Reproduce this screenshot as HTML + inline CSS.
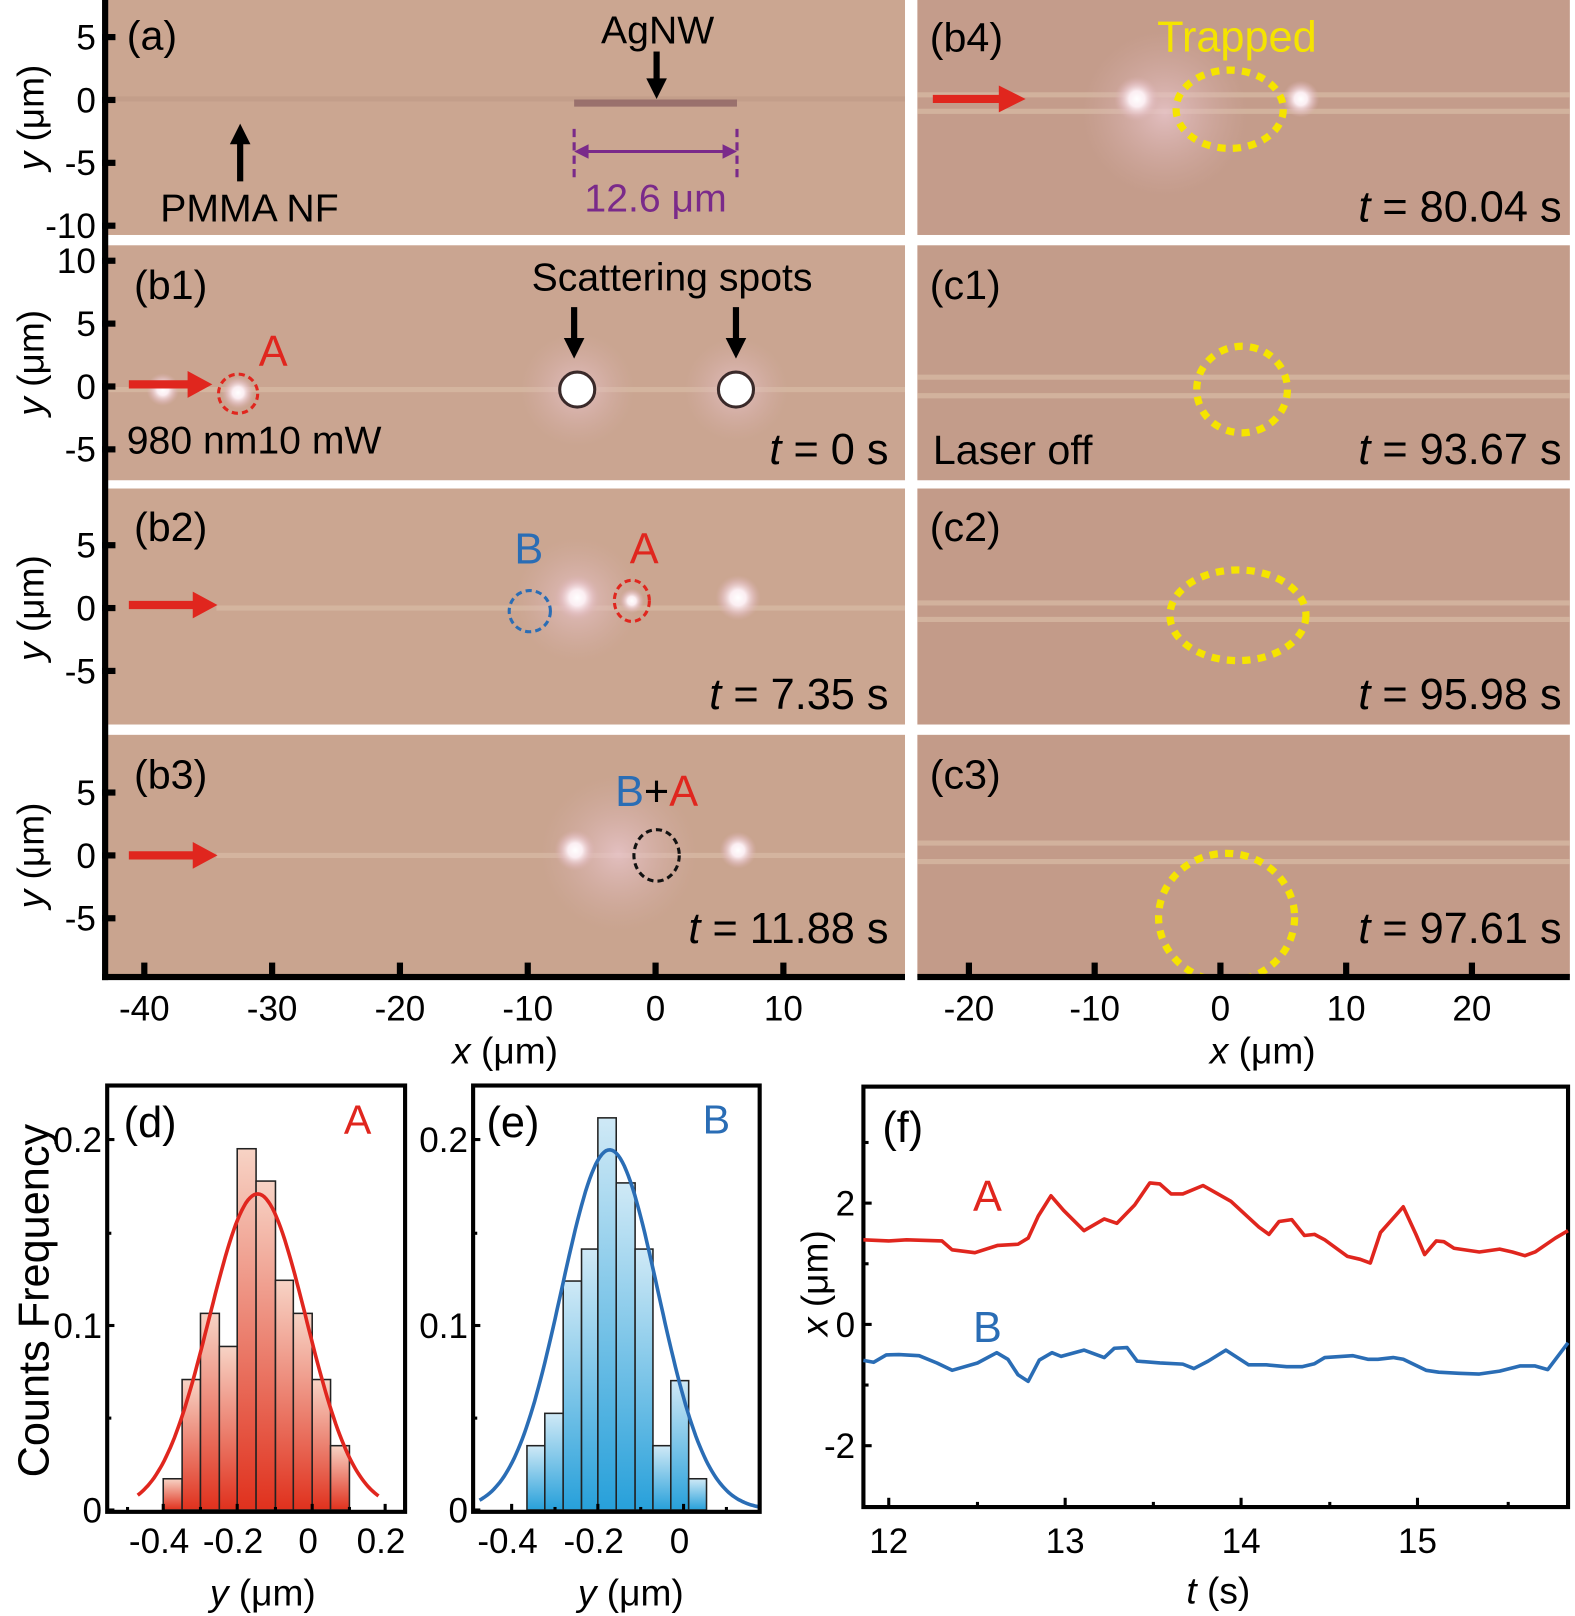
<!DOCTYPE html>
<html><head><meta charset="utf-8">
<style>
html,body{margin:0;padding:0;background:#fff;}
svg{display:block;}
text{font-family:"Liberation Sans",sans-serif;}
.n{font-family:"Liberation Sans Narrow","Liberation Sans",sans-serif;}
</style></head>
<body>
<svg id="s" width="1575" height="1616" viewBox="0 0 1528 1568" preserveAspectRatio="none" xmlns="http://www.w3.org/2000/svg">
<defs>
<radialGradient id="glow"><stop offset="0" stop-color="#fff"/><stop offset="0.35" stop-color="#fbeef2"/><stop offset="0.7" stop-color="#e6c3c8" stop-opacity="0.6"/><stop offset="1" stop-color="#d9b0b0" stop-opacity="0"/></radialGradient>
<radialGradient id="haze"><stop offset="0" stop-color="#e9c6cc" stop-opacity="0.8"/><stop offset="1" stop-color="#d8b0ae" stop-opacity="0"/></radialGradient>
<linearGradient id="gr" x1="0" y1="0" x2="0" y2="1"><stop offset="0" stop-color="#f7d3c5"/><stop offset="1" stop-color="#e0311d"/></linearGradient>
<linearGradient id="gb" x1="0" y1="0" x2="0" y2="1"><stop offset="0" stop-color="#cfe9f6"/><stop offset="1" stop-color="#27a0da"/></linearGradient>
</defs>

<g>
<rect x="100" y="0" width="778" height="228" fill="#cba691"/>
<rect x="100" y="238" width="778" height="228" fill="#caa591"/>
<rect x="100" y="474" width="778" height="229" fill="#cba691"/>
<rect x="100" y="713" width="778" height="235" fill="#c9a48f"/>
<rect x="890" y="0" width="633" height="228" fill="#c49c8b"/>
<rect x="890" y="238" width="633" height="228" fill="#c39c8a"/>
<rect x="890" y="474" width="633" height="229" fill="#c39b89"/>
<rect x="890" y="713" width="633" height="235" fill="#c39b89"/>
</g>
<g stroke="#d9bca6" stroke-width="5" opacity="0.7">
<line x1="105" y1="96" x2="878" y2="96" stroke="#c09b88"/>
<line x1="105" y1="378" x2="878" y2="378"/>
<line x1="210" y1="590" x2="878" y2="590"/>
<line x1="210" y1="830" x2="878" y2="830"/>
<line x1="890" y1="92" x2="1523" y2="92"/><line x1="890" y1="108" x2="1523" y2="108"/>
<line x1="890" y1="366" x2="1523" y2="366"/><line x1="890" y1="384" x2="1523" y2="384"/>
<line x1="890" y1="585" x2="1523" y2="585"/><line x1="890" y1="601" x2="1523" y2="601"/>
<line x1="890" y1="818" x2="1523" y2="818"/><line x1="890" y1="836" x2="1523" y2="836"/>
</g>
<!-- (a) -->
<line x1="557" y1="100" x2="715" y2="100" stroke="#8f6565" stroke-width="7" opacity="0.8"/>
<g stroke="#7a2a8a" stroke-width="3">
<line x1="557" y1="125" x2="557" y2="172" stroke-dasharray="8,5"/>
<line x1="715" y1="125" x2="715" y2="172" stroke-dasharray="8,5"/>
<line x1="568" y1="147" x2="704" y2="147"/>
<path d="M557,147 l14,-7 v14z M715,147 l-14,-7 v14z" fill="#7a2a8a" stroke="none"/>
</g>
<text x="636" y="205" font-size="38" fill="#7a2a8a" text-anchor="middle">12.6 μm</text>
<text x="638" y="42" font-size="38" text-anchor="middle">AgNW</text>
<path d="M637,50 V78" stroke="#000" stroke-width="6"/><path d="M627,76 h20 l-10,20z"/>
<path d="M233,176 V138" stroke="#000" stroke-width="6"/><path d="M223,140 h20 l-10,-20z"/>
<text x="242" y="215" font-size="38" text-anchor="middle">PMMA NF</text>
<text x="123" y="48" font-size="40">(a)</text>

<!-- (b1) -->
<circle cx="560" cy="378" r="55" fill="url(#haze)"/><circle cx="714" cy="378" r="50" fill="url(#haze)"/>
<circle cx="560" cy="378" r="17" fill="#fff" stroke="#3a2a2a" stroke-width="3"/>
<circle cx="714" cy="378" r="17" fill="#fff" stroke="#3a2a2a" stroke-width="3"/>
<circle cx="231" cy="381" r="16" fill="url(#glow)"/>
<circle cx="231" cy="382" r="19" fill="none" stroke="#e0261e" stroke-width="3" stroke-dasharray="6,4"/>
<circle cx="158" cy="378" r="16" fill="url(#glow)"/>
<line x1="125" y1="373" x2="185" y2="373" stroke="#e0261e" stroke-width="8"/><path d="M182,360 l24,13 l-24,13z" fill="#e0261e"/>
<text x="265" y="355" font-size="42" fill="#e0261e" text-anchor="middle">A</text>
<text x="652" y="282" font-size="38" text-anchor="middle">Scattering spots</text>
<path d="M557,298 V330" stroke="#000" stroke-width="6"/><path d="M547,328 h20 l-10,20z"/>
<path d="M714,298 V330" stroke="#000" stroke-width="6"/><path d="M704,328 h20 l-10,20z"/>
<text x="123" y="440" font-size="38">980 nm10 mW</text>
<text x="130" y="290" font-size="40">(b1)</text>
<text x="862" y="450" font-size="42" text-anchor="end"><tspan font-style="italic">t</tspan> = 0 s</text>

<!-- (b2) -->
<circle cx="560" cy="582" r="60" fill="url(#haze)"/>
<circle cx="560" cy="580" r="22" fill="url(#glow)"/><circle cx="716" cy="580" r="22" fill="url(#glow)"/>
<circle cx="613" cy="583" r="12" fill="url(#glow)"/>
<circle cx="514" cy="593" r="20" fill="none" stroke="#2a6db5" stroke-width="3" stroke-dasharray="6,4"/>
<ellipse cx="613" cy="583" rx="17" ry="20" fill="none" stroke="#e0261e" stroke-width="3" stroke-dasharray="6,4"/>
<line x1="125" y1="587" x2="190" y2="587" stroke="#e0261e" stroke-width="8"/><path d="M187,574 l24,13 l-24,13z" fill="#e0261e"/>
<text x="513" y="547" font-size="42" fill="#2a6db5" text-anchor="middle">B</text>
<text x="625" y="547" font-size="42" fill="#e0261e" text-anchor="middle">A</text>
<text x="130" y="525" font-size="40">(b2)</text>
<text x="862" y="688" font-size="42" text-anchor="end"><tspan font-style="italic">t</tspan> = 7.35 s</text>

<!-- (b3) -->
<circle cx="600" cy="828" r="75" fill="url(#haze)"/>
<circle cx="558" cy="825" r="20" fill="url(#glow)"/><circle cx="716" cy="825" r="18" fill="url(#glow)"/>
<ellipse cx="637" cy="830" rx="22" ry="25" fill="none" stroke="#111" stroke-width="3" stroke-dasharray="6,4"/>
<line x1="125" y1="830" x2="190" y2="830" stroke="#e0261e" stroke-width="8"/><path d="M187,817 l24,13 l-24,13z" fill="#e0261e"/>
<text x="637" y="782" font-size="42" text-anchor="middle"><tspan fill="#2a6db5">B</tspan>+<tspan fill="#e0261e">A</tspan></text>
<text x="130" y="765" font-size="40">(b3)</text>
<text x="862" y="915" font-size="42" text-anchor="end"><tspan font-style="italic">t</tspan> = 11.88 s</text>

<!-- (b4) -->
<circle cx="1130" cy="110" r="80" fill="url(#haze)"/>
<circle cx="1103" cy="96" r="22" fill="url(#glow)"/><circle cx="1262" cy="96" r="18" fill="url(#glow)"/>
<ellipse cx="1193" cy="106" rx="52" ry="38" fill="none" stroke="#f5e400" stroke-width="7" stroke-dasharray="8,7"/>
<line x1="905" y1="96" x2="972" y2="96" stroke="#e0261e" stroke-width="8"/><path d="M969,83 l26,13 l-26,13z" fill="#e0261e"/>
<text x="1200" y="50" font-size="42" fill="#f5e400" text-anchor="middle">Trapped</text>
<text x="902" y="50" font-size="40">(b4)</text>
<text x="1515" y="215" font-size="42" text-anchor="end"><tspan font-style="italic">t</tspan> = 80.04 s</text>

<!-- (c1)-(c3) -->
<ellipse cx="1205" cy="378" rx="44" ry="42" fill="none" stroke="#f5e400" stroke-width="7" stroke-dasharray="8,7"/>
<text x="902" y="290" font-size="40">(c1)</text>
<text x="905" y="450" font-size="40">Laser off</text>
<text x="1515" y="450" font-size="42" text-anchor="end"><tspan font-style="italic">t</tspan> = 93.67 s</text>
<ellipse cx="1201" cy="597" rx="66" ry="44" fill="none" stroke="#f5e400" stroke-width="7" stroke-dasharray="8,7"/>
<text x="902" y="525" font-size="40">(c2)</text>
<text x="1515" y="688" font-size="42" text-anchor="end"><tspan font-style="italic">t</tspan> = 95.98 s</text>
<clipPath id="c3c"><rect x="890" y="713" width="633" height="232"/></clipPath>
<ellipse clip-path="url(#c3c)" cx="1190" cy="890" rx="66" ry="62" fill="none" stroke="#f5e400" stroke-width="7" stroke-dasharray="8,7"/>
<text x="902" y="765" font-size="40">(c3)</text>
<text x="1515" y="915" font-size="42" text-anchor="end"><tspan font-style="italic">t</tspan> = 97.61 s</text>

<rect x="99" y="0" width="6" height="951" fill="#000"/>
<rect x="99" y="945" width="779" height="6" fill="#000"/>
<rect x="890" y="945" width="633" height="6" fill="#000"/>
<g id="yt" font-size="34" text-anchor="end" class="n"></g>
<g id="xt" font-size="34" text-anchor="middle" class="n"></g>
<g font-size="36">
<text transform="translate(42,114) rotate(-90)" text-anchor="middle"><tspan font-style="italic">y</tspan> (μm)</text>
<text transform="translate(42,352) rotate(-90)" text-anchor="middle"><tspan font-style="italic">y</tspan> (μm)</text>
<text transform="translate(42,590) rotate(-90)" text-anchor="middle"><tspan font-style="italic">y</tspan> (μm)</text>
<text transform="translate(42,830) rotate(-90)" text-anchor="middle"><tspan font-style="italic">y</tspan> (μm)</text>
<text x="490" y="1032" text-anchor="middle"><tspan font-style="italic">x</tspan> (μm)</text>
<text x="1225" y="1032" text-anchor="middle"><tspan font-style="italic">x</tspan> (μm)</text>
</g>

<g id="d"></g><g id="e"></g><g id="f"></g>
<text transform="translate(47,1262) rotate(-90)" text-anchor="middle" font-size="42">Counts Frequency</text>
<text x="120" y="1103" font-size="42">(d)</text>
<text x="347" y="1100" font-size="40" fill="#e0261e" text-anchor="middle">A</text>
<text x="472" y="1103" font-size="42">(e)</text>
<text x="695" y="1100" font-size="40" fill="#2a6db5" text-anchor="middle">B</text>
<text x="856" y="1108" font-size="42">(f)</text>
<text x="958" y="1175" font-size="42" fill="#e0261e" text-anchor="middle">A</text>
<text x="958" y="1302" font-size="42" fill="#2a6db5" text-anchor="middle">B</text>
<g font-size="36" text-anchor="middle">
<text x="255" y="1558"><tspan font-style="italic">y</tspan> (μm)</text>
<text x="612" y="1558"><tspan font-style="italic">y</tspan> (μm)</text>
<text x="1182" y="1556"><tspan font-style="italic">t</tspan> (s)</text>
<text transform="translate(803,1245) rotate(-90)"><tspan font-style="italic">x</tspan> (μm)</text>
</g>
</svg>
<script>
var NS="http://www.w3.org/2000/svg";
function el(p,t,a,txt){var e=document.createElementNS(NS,t);for(var k in a)e.setAttribute(k,a[k]);if(txt!==undefined)e.textContent=txt;p.appendChild(e);return e;}
var yt=document.getElementById('yt'),xt=document.getElementById('xt');
var rows=[[97,[5,0,-5,-10]],[375,[10,5,0,-5]],[590,[5,0,-5]],[830,[5,0,-5]]];
rows.forEach(function(r){r[1].forEach(function(v){var y=r[0]-v*12.2;el(yt,'rect',{x:99,y:y-3,width:13,height:6,fill:'#000'});el(yt,'text',{x:93,y:y+12},v);});});
for(var v=-40;v<=10;v+=10){var x=636+v*12.4;el(xt,'rect',{x:x-3,y:934,width:6,height:12,fill:'#000'});el(xt,'text',{x:x,y:990},v);}
for(var v=-20;v<=20;v+=10){var x=1184+v*12.2;el(xt,'rect',{x:x-3,y:934,width:6,height:12,fill:'#000'});el(xt,'text',{x:x,y:990},v);}
var Y=function(zy){return 1008.7+zy*0.3566;};
function hist(g,bx0,bx1,edges,tops,grad,col,cx,peak,sig,gx0,gx1,ticks){
 var X=function(zx){return zx*0.4949;};
 for(var i=0;i<tops.length;i++){el(g,'rect',{x:X(edges[i]),y:Y(tops[i]),width:X(edges[i+1])-X(edges[i]),height:Y(1280)-Y(tops[i]),fill:'url(#'+grad+')',stroke:'#222','stroke-width':1.5});}
 var d='';for(var zx=gx0;zx<=gx1;zx+=4){var zy=1280-peak*Math.exp(-Math.pow(zx-cx,2)/(2*sig*sig));d+=(d?'L':'M')+X(zx).toFixed(1)+','+Y(zy).toFixed(1);}
 el(g,'path',{d:d,fill:'none',stroke:col,'stroke-width':3.5});
 el(g,'rect',{x:bx0,y:Y(125),width:bx1-bx0,height:Y(1285)-Y(125),fill:'none',stroke:'#000','stroke-width':4});
 [[0,1280],[0.1,778],[0.2,272]].forEach(function(t){el(g,'line',{x1:bx0,y1:Y(t[1]),x2:bx0+7,y2:Y(t[1]),stroke:'#000','stroke-width':3});el(g,'text',{x:bx0-5,y:Y(t[1])+12,'font-size':34,'text-anchor':'end','class':'n'},t[0]);});
 [527,1030].forEach(function(z){el(g,'line',{x1:bx0,y1:Y(z),x2:bx0+4,y2:Y(z),stroke:'#000','stroke-width':3});});
 ticks.forEach(function(t){el(g,'line',{x1:X(t[1]),y1:Y(1283),x2:X(t[1]),y2:Y(1283)-(t[2]?7:4),stroke:'#000','stroke-width':3});if(t[2])el(g,'text',{x:X(t[1])-4,y:1507,'font-size':34,'text-anchor':'middle','class':'n'},t[0]);});
}
hist(document.getElementById('d'),104,393,[320,357,393,430,465,502,540,575,612,648,685],[1195,925,745,835,297,385,655,745,925,1105],'gr','#e0261e',505,860,95,270,745,
 [['',250,0],['-0.4',320,1],['',393,0],['-0.2',465,1],['',540,0],['0',612,1],['',685,0],['0.2',755,1]]);
hist(document.getElementById('e'),459,737,[1033,1068,1104,1140,1172,1208,1245,1280,1315,1350,1385],[1105,1017,657,570,213,390,570,1105,928,1195],'gb','#2a6db5',1195,980,95,940,1488,
 [['-0.4',1003,1],['',1088,0],['-0.2',1172,1],['',1256,0],['0',1340,1],['',1424,0]]);
var f=document.getElementById('f');
var FX=function(z){return 756.5+z*0.4918;};
el(f,'rect',{x:FX(165),y:Y(128),width:FX(1555)-FX(165),height:Y(1272)-Y(128),fill:'none',stroke:'#000','stroke-width':4});
[[2,445],[0,775],[-2,1105]].forEach(function(t){el(f,'line',{x1:FX(165),y1:Y(t[1]),x2:FX(165)+8,y2:Y(t[1]),stroke:'#000','stroke-width':3});el(f,'text',{x:FX(165)-8,y:Y(t[1])+12,'font-size':34,'text-anchor':'end','class':'n'},t[0]);});
[280,610,940].forEach(function(z){el(f,'line',{x1:FX(165),y1:Y(z),x2:FX(165)+5,y2:Y(z),stroke:'#000','stroke-width':3});});
[[12,215],[13,563],[14,910],[15,1258]].forEach(function(t){el(f,'line',{x1:FX(t[1]),y1:Y(1272),x2:FX(t[1]),y2:Y(1272)-9,stroke:'#000','stroke-width':3});el(f,'text',{x:FX(t[1]),y:1507,'font-size':34,'text-anchor':'middle','class':'n'},t[0]);});
[390,737,1085,1437].forEach(function(z){el(f,'line',{x1:FX(z),y1:Y(1272),x2:FX(z),y2:Y(1272)-5,stroke:'#000','stroke-width':3});});
var A=[[165,545],[215,548],[250,545],[320,548],[340,572],[385,580],[430,560],[470,557],[490,540],[510,480],[535,425],[560,465],[600,520],[640,488],[665,500],[700,450],[730,390],[750,393],[772,420],[795,420],[835,397],[890,440],[945,510],[965,530],[985,495],[1010,490],[1035,533],[1055,530],[1075,545],[1120,590],[1145,598],[1165,608],[1185,525],[1230,455],[1255,530],[1272,585],[1295,548],[1310,550],[1330,568],[1380,578],[1420,570],[1445,578],[1470,588],[1490,578],[1530,540],[1555,520]];
var B=[[165,873],[185,878],[210,858],[235,857],[275,860],[310,880],[340,900],[390,880],[428,852],[450,870],[470,912],[490,930],[512,872],[537,852],[555,862],[600,845],[640,865],[660,840],[685,838],[705,875],[750,880],[795,883],[817,895],[845,875],[880,845],[925,885],[960,885],[1000,890],[1030,890],[1055,882],[1075,865],[1130,860],[1160,870],[1180,870],[1210,865],[1230,870],[1275,900],[1300,905],[1340,908],[1380,910],[1420,902],[1460,888],[1490,888],[1515,898],[1555,825]];
function pl(P,c){el(f,'polyline',{points:P.map(function(p){return FX(p[0]).toFixed(1)+','+Y(p[1]).toFixed(1);}).join(' '),fill:'none',stroke:c,'stroke-width':3.5,'stroke-linejoin':'round'});}
pl(A,'#e0261e');pl(B,'#2a6db5');
</script>
</body></html>
